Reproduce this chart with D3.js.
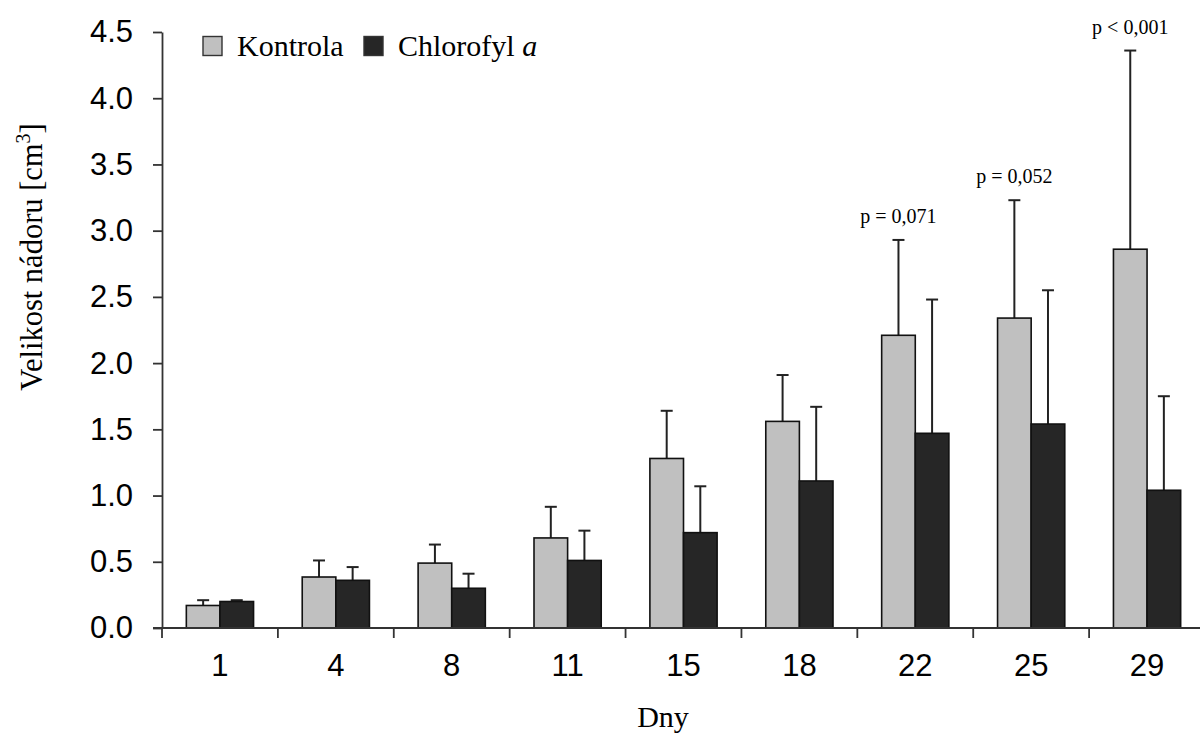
<!DOCTYPE html>
<html>
<head>
<meta charset="utf-8">
<script src="https://cdn.jsdelivr.net/npm/d3@7"></script>
<style>
  html, body { margin: 0; padding: 0; background: #fff; }
  svg { display: block; }
</style>
</head>
<body>
<div id="chart"></div>
<script>
// Tumour volume per day, control vs. chlorophyll a group (mean + SD)
const days = ["1", "4", "8", "11", "15", "18", "22", "25", "29"];
const kontrolaMean = [0.17, 0.385, 0.49, 0.68, 1.28, 1.56, 2.21, 2.34, 2.86];
const kontrolaErr  = [0.04, 0.125, 0.14, 0.235, 0.36, 0.35, 0.72, 0.89, 1.50];
const chlorofylMean = [0.20, 0.36, 0.30, 0.51, 0.72, 1.11, 1.47, 1.54, 1.04];
const chlorofylErr  = [0.01, 0.10, 0.11, 0.225, 0.35, 0.56, 1.01, 1.01, 0.71];
const pLabels = ["", "", "", "", "", "", "p = 0,071", "p = 0,052", "p < 0,001"];
const yTicks = [0, 0.5, 1, 1.5, 2, 2.5, 3, 3.5, 4, 4.5];
const seriesNames = ["Kontrola", "Chlorofyl"];
const seriesColors = ["#c0c0c0", "#262626"];

const W = 1200, H = 736;
const margin = { left: 162, right: -5, top: 32, bottom: 108 };

const svg = d3.select("#chart").append("svg")
  .attr("width", W).attr("height", H);

const x = d3.scaleBand()
  .domain(days)
  .range([margin.left, W - margin.right])
  .paddingInner(0).paddingOuter(0);

const y = d3.scaleLinear()
  .domain([0, 4.5])
  .range([H - margin.bottom, margin.top]);

const barW = x.bandwidth() * 0.29;

const series = [
  { mean: kontrolaMean, err: kontrolaErr, color: seriesColors[0], offset: -barW },
  { mean: chlorofylMean, err: chlorofylErr, color: seriesColors[1], offset: 0 }
];

const sansFont = "'Liberation Sans', Arial, sans-serif";
const serifFont = "'Liberation Serif', 'Times New Roman', serif";

// Error bars (drawn first so bars cover the lower half)
series.forEach(s => {
  const g = svg.append("g");
  days.forEach((d, i) => {
    const cx = x(d) + x.bandwidth() / 2 + s.offset + barW / 2;
    const top = y(s.mean[i] + s.err[i]);
    g.append("line")
      .attr("x1", cx).attr("x2", cx)
      .attr("y1", y(s.mean[i])).attr("y2", top)
      .attr("stroke", "#222").attr("stroke-width", 2);
    g.append("line")
      .attr("x1", cx - 6).attr("x2", cx + 6)
      .attr("y1", top).attr("y2", top)
      .attr("stroke", "#222").attr("stroke-width", 2);
  });
});

// Bars
series.forEach(s => {
  svg.append("g").selectAll("rect")
    .data(days)
    .join("rect")
    .attr("x", d => x(d) + x.bandwidth() / 2 + s.offset)
    .attr("y", (d, i) => y(s.mean[i]))
    .attr("width", barW)
    .attr("height", (d, i) => y(0) - y(s.mean[i]))
    .attr("fill", s.color)
    .attr("stroke", "#111")
    .attr("stroke-width", 1.6);
});

// p-value annotations above the control error bars
svg.append("g").selectAll("text")
  .data(days)
  .join("text")
  .attr("x", d => x(d) + x.bandwidth() / 2 - barW / 2)
  .attr("y", (d, i) => y(kontrolaMean[i] + kontrolaErr[i]) - 17)
  .attr("text-anchor", "middle")
  .attr("font-family", serifFont)
  .attr("font-size", 20)
  .attr("fill", "#000")
  .text((d, i) => pLabels[i]);

// Y axis
const yAxis = d3.axisLeft(y)
  .tickValues(yTicks)
  .tickFormat(d3.format(".1f"))
  .tickSize(9)
  .tickSizeOuter(0)
  .tickPadding(20);
const gy = svg.append("g")
  .attr("transform", `translate(${margin.left},0)`)
  .call(yAxis);
gy.select(".domain").attr("stroke", "#333").attr("stroke-width", 1.8);
gy.selectAll(".tick line").attr("stroke", "#333").attr("stroke-width", 1.8);
gy.selectAll(".tick text")
  .attr("font-family", sansFont)
  .attr("font-size", 31)
  .attr("fill", "#000");

// X axis: baseline, boundary ticks and centered day labels
const gx = svg.append("g");
gx.append("line")
  .attr("x1", margin.left - 9).attr("x2", W)
  .attr("y1", y(0)).attr("y2", y(0))
  .attr("stroke", "#333").attr("stroke-width", 1.8);
gx.selectAll("line.bound")
  .data(days)
  .join("line")
  .attr("class", "bound")
  .attr("x1", d => x(d)).attr("x2", d => x(d))
  .attr("y1", y(0)).attr("y2", y(0) + 10)
  .attr("stroke", "#333").attr("stroke-width", 1.8);
gx.selectAll("text")
  .data(days)
  .join("text")
  .attr("x", d => x(d) + x.bandwidth() / 2)
  .attr("y", y(0) + 48)
  .attr("text-anchor", "middle")
  .attr("font-family", sansFont)
  .attr("font-size", 31)
  .attr("fill", "#000")
  .text(d => d);

// Axis titles
svg.append("text")
  .attr("x", 663).attr("y", 727)
  .attr("text-anchor", "middle")
  .attr("font-family", serifFont)
  .attr("font-size", 30)
  .attr("fill", "#000")
  .text("Dny");

const yt = svg.append("text")
  .attr("transform", "translate(42,257) rotate(-90)")
  .attr("text-anchor", "middle")
  .attr("font-family", serifFont)
  .attr("font-size", 30.5)
  .attr("fill", "#000");
yt.append("tspan").text("Velikost nádoru [cm");
yt.append("tspan").attr("dy", -12).attr("font-size", 20).text("3");
yt.append("tspan").attr("dy", 12).text("]");

// Legend
const legend = svg.append("g");
const legendX = [203, 364];
seriesNames.forEach((name, i) => {
  legend.append("rect")
    .attr("x", legendX[i]).attr("y", 36.5)
    .attr("width", 19).attr("height", 19)
    .attr("fill", seriesColors[i])
    .attr("stroke", "#333").attr("stroke-width", 1.4);
  const t = legend.append("text")
    .attr("x", legendX[i] + 34).attr("y", 56)
    .attr("font-family", serifFont)
    .attr("font-size", 30)
    .attr("fill", "#000")
    .text(name);
  if (i === 1) {
    t.append("tspan").text(" ");
    t.append("tspan").attr("font-style", "italic").text("a");
  }
});
</script>
</body>
</html>
